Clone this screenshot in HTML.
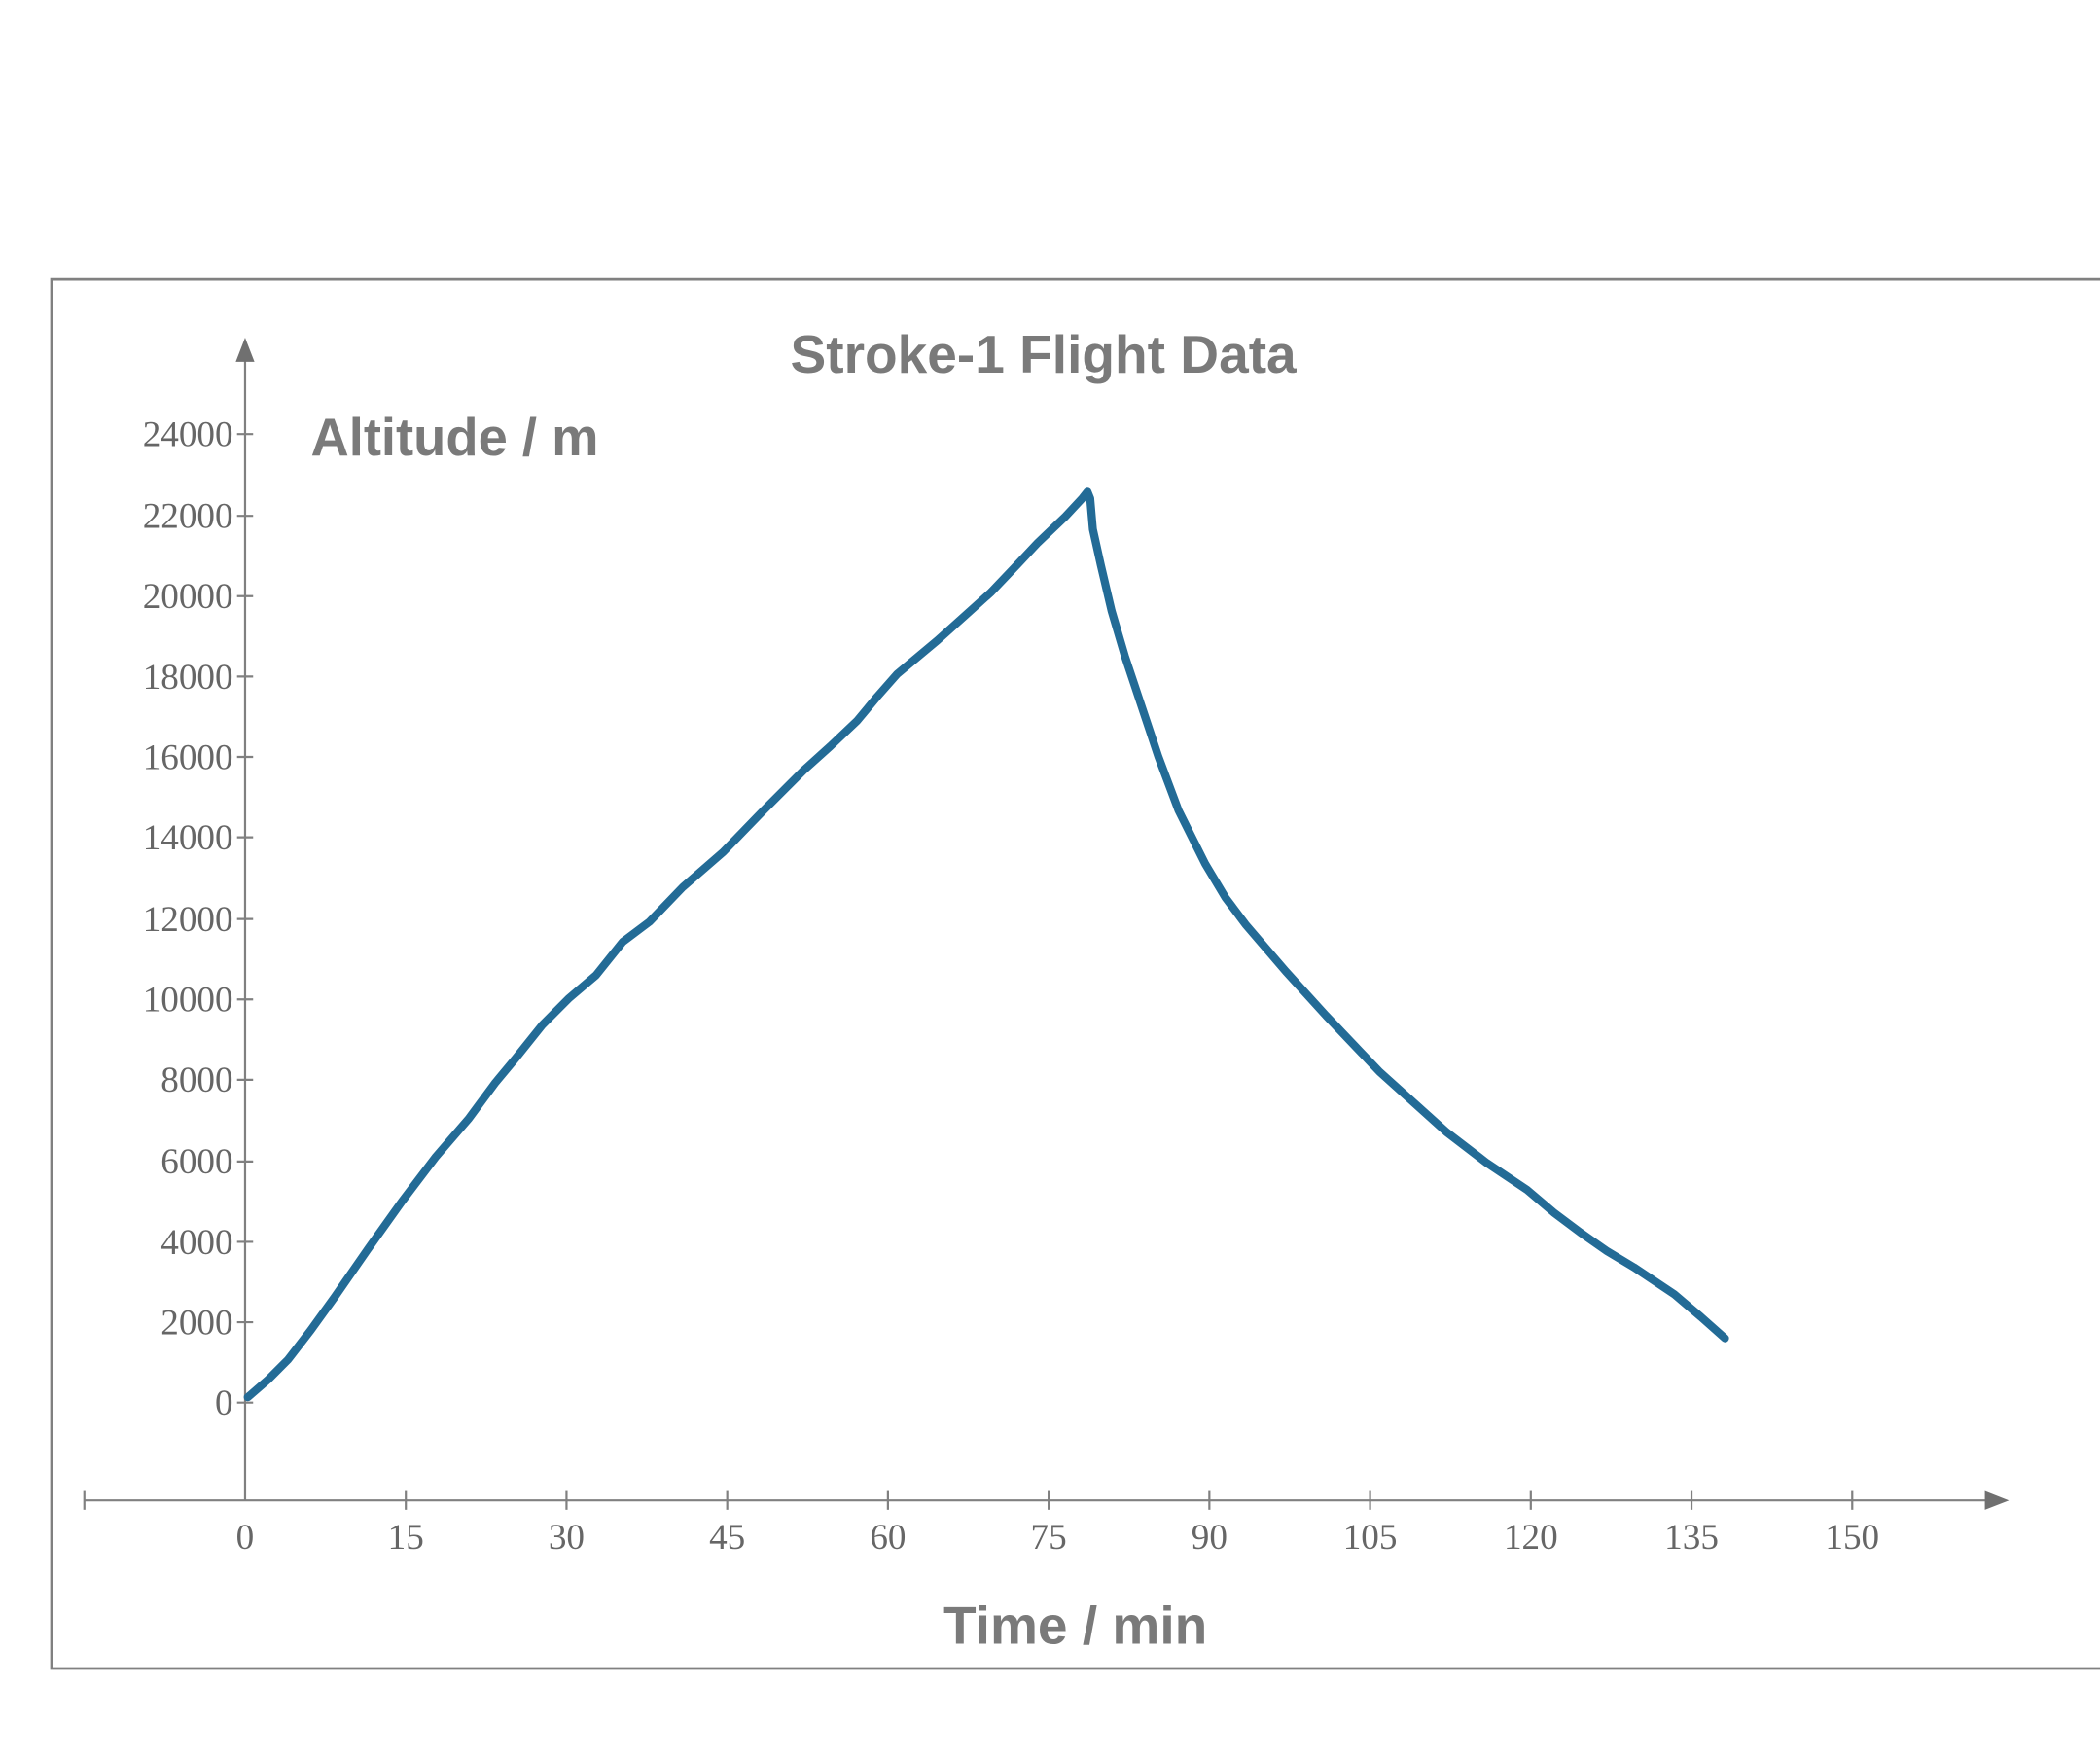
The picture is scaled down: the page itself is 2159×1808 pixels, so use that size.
<!DOCTYPE html>
<html><head><style>html,body{margin:0;padding:0;background:#fff}svg{display:block}</style></head>
<body>
<svg width="2159" height="1808" viewBox="0 0 1568 1313" xmlns="http://www.w3.org/2000/svg">
<rect x="0" y="0" width="1568" height="1313" fill="#fff"/>
<rect x="38.5" y="208.5" width="1540" height="1037" fill="none" stroke="#808080" stroke-width="2"/>
<g stroke="#808080" stroke-width="1.6" fill="none">
<line x1="183" y1="1120" x2="183" y2="265"/>
<line x1="63" y1="1120" x2="1487" y2="1120"/>
<line x1="63" y1="1113" x2="63" y2="1127"/>
</g>
<polygon points="183,252 176,270 190,270" fill="#707070"/>
<polygon points="1500,1120 1482,1113 1482,1127" fill="#707070"/>
<g stroke="#808080" stroke-width="1.6">
<line x1="303" y1="1113" x2="303" y2="1127"/><line x1="423" y1="1113" x2="423" y2="1127"/>
<line x1="543" y1="1113" x2="543" y2="1127"/><line x1="663" y1="1113" x2="663" y2="1127"/>
<line x1="783" y1="1113" x2="783" y2="1127"/><line x1="903" y1="1113" x2="903" y2="1127"/>
<line x1="1023" y1="1113" x2="1023" y2="1127"/><line x1="1143" y1="1113" x2="1143" y2="1127"/>
<line x1="1263" y1="1113" x2="1263" y2="1127"/><line x1="1383" y1="1113" x2="1383" y2="1127"/>
<line x1="177" y1="1047" x2="189" y2="1047"/><line x1="177" y1="987" x2="189" y2="987"/>
<line x1="177" y1="927" x2="189" y2="927"/><line x1="177" y1="867" x2="189" y2="867"/>
<line x1="177" y1="806" x2="189" y2="806"/><line x1="177" y1="746" x2="189" y2="746"/>
<line x1="177" y1="686" x2="189" y2="686"/><line x1="177" y1="625" x2="189" y2="625"/>
<line x1="177" y1="565" x2="189" y2="565"/><line x1="177" y1="505" x2="189" y2="505"/>
<line x1="177" y1="445" x2="189" y2="445"/><line x1="177" y1="385" x2="189" y2="385"/>
<line x1="177" y1="324" x2="189" y2="324"/>
</g>
<g font-family="Liberation Serif, serif" font-size="27" fill="#666" text-anchor="end">
<text x="174" y="1056">0</text><text x="174" y="996">2000</text><text x="174" y="936">4000</text>
<text x="174" y="876">6000</text><text x="174" y="815">8000</text><text x="174" y="755">10000</text>
<text x="174" y="695">12000</text><text x="174" y="634">14000</text><text x="174" y="574">16000</text>
<text x="174" y="514">18000</text><text x="174" y="454">20000</text><text x="174" y="394">22000</text>
<text x="174" y="333">24000</text>
</g>
<g font-family="Liberation Serif, serif" font-size="27" fill="#666" text-anchor="middle">
<text x="183" y="1156">0</text><text x="303" y="1156">15</text><text x="423" y="1156">30</text>
<text x="543" y="1156">45</text><text x="663" y="1156">60</text><text x="783" y="1156">75</text>
<text x="903" y="1156">90</text><text x="1023" y="1156">105</text><text x="1143" y="1156">120</text>
<text x="1263" y="1156">135</text><text x="1383" y="1156">150</text>
</g>
<g font-family="Liberation Sans, sans-serif" font-weight="bold" fill="#7a7a7a">
<text x="779" y="278" font-size="40" text-anchor="middle">Stroke-1 Flight Data</text>
<text x="232" y="340" font-size="39.5">Altitude / m</text>
<text x="803" y="1227" font-size="40" text-anchor="middle">Time / min</text>
</g>
<polyline fill="none" stroke="#236b96" stroke-width="6" stroke-linejoin="round" stroke-linecap="round"
points="185,1043 200,1030 215,1015 232,993 250,968 275,932 300,897 325,864 350,835 370,808 385,790 405,765 425,745 445,728 465,703 485,688 510,662 540,636 570,605 600,575 620,557 640,538 655,520 670,503 700,478 720,460 740,442 760,421 775,405 795,386 808,372 812,367 814,372 816,395 822,422 830,456 840,490 850,520 865,565 880,605 900,645 915,670 930,690 960,725 990,758 1030,800 1080,845 1110,868 1140,888 1160,905 1180,920 1200,934 1220,946 1250,966 1270,983 1288,999"/>
</svg>
</body></html>
